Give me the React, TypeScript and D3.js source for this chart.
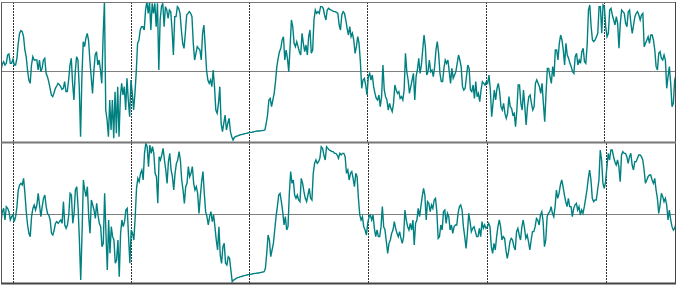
import React from "react";
import * as d3 from "d3";

// Upper oscillator series (arbitrary units, 0..420, reference level 213)
const upperSeries: number[] = [
  216,234,241,231,236,261,264,236,236,248,231,231,251,296,326,334,331,316,276,256,
  216,186,176,231,256,246,246,246,216,246,211,221,246,251,206,196,181,161,141,136,
  148,161,168,176,172,166,158,161,181,151,151,186,231,251,176,126,211,256,246,166,
  16,196,301,286,311,326,306,246,196,146,211,261,271,231,246,216,176,316,421,96,
  66,16,126,
  36,126,11,151,26,166,16,136,176,141,166,96,191,126,76,186,146,96,146,211,
  296,306,336,346,346,336,396,421,386,421,336,416,386,416,346,416,216,366,406,416,
  346,406,396,371,396,391,336,261,376,376,406,401,386,336,296,281,326,381,386,391,
  386,376,296,246,266,286,281,276,246,326,351,286,216,186,176,186,166,216,166,96,
  86,116,166,
  56,31,56,81,36,56,71,31,16,6,14,16,18,19,21,22,23,24,25,26,
  27,28,29,29,30,31,32,33,33,33,34,34,35,36,56,81,126,131,106,126,
  146,181,226,251,271,281,306,316,246,276,251,211,286,366,346,296,286,301,286,271,
  261,326,296,271,291,261,316,336,266,276,366,396,386,391,386,406,406,401,381,366,
  396,401,398,396,393,391,391,389,386,351,336,381,391,386,366,341,321,346,316,326,
  306,266,286,316,296,241,161,186,191,171,141,196,206,186,201,166,146,131,126,141,
  106,136,231,156,136,126,96,116,101,91,116,171,156,146,151,131,136,126,156,266,
  211,186,146,166,186,206,126,196,216,251,206,231,276,321,286,201,211,246,211,216,
  196,226,276,301,266,206,181,181,221,246,236,
  246,211,176,221,191,201,211,236,261,246,226,166,156,161,196,231,221,156,151,171,
  131,181,136,146,121,156,181,176,171,181,176,201,156,76,116,156,126,161,176,151,
  106,96,116,86,71,86,136,106,101,81,86,46,96,171,171,116,96,156,106,51,
  106,136,141,116,96,106,176,186,176,166,146,176,116,61,146,221,221,196,176,226,
  196,276,276,246,296,321,306,276,231,296,261,251,236,226,211,206,256,266,231,246,
  236,271,281,241,236,291,396,411,346,306,301,306,316,326,406,406,326,411,406,346,
  316,326,396,401,381,366,351,376,356,281,356,396,391,386,356,346,391,396,356,326,
  351,376,386,391,381,366,381,386,286,296,306,316,296,321,321,306,276,226,216,266,
  271,251,246,261,246,161,196,226,176,106,116,186,201,
];

// Lower oscillator series (arbitrary units, 0..420, reference level 208)
const lowerSeries: number[] = [
  184,214,224,189,229,224,214,189,199,204,184,199,229,279,294,299,294,314,269,214,
  174,149,139,199,224,234,219,234,269,234,199,229,254,264,229,209,204,189,149,144,
  159,179,184,179,184,189,179,244,174,164,174,204,269,264,179,209,279,289,229,129,
  9,149,309,279,259,289,199,149,249,234,219,194,239,204,179,169,109,119,269,149,
  39,189,89,169,139,129,59,69,129,19,149,189,169,184,219,224,139,59,159,149,
  129,199,284,314,304,329,339,309,389,419,409,349,414,389,409,389,329,319,239,379,
  369,384,404,369,339,299,364,389,339,319,279,329,359,369,394,369,309,279,239,289,
  299,349,319,329,349,299,279,289,269,209,259,304,334,269,214,199,174,199,214,184,
  204,169,129,99,169,
  84,59,109,119,59,54,79,74,39,4,9,11,14,16,17,19,19,21,22,23,
  24,25,26,26,27,28,29,29,30,30,31,32,33,34,44,89,144,129,79,99,
  119,159,199,229,264,269,244,214,174,199,159,169,269,334,299,309,264,254,264,249,
  244,314,299,274,254,244,264,284,254,249,329,359,369,359,364,374,409,404,384,369,
  409,404,399,397,394,394,389,389,384,374,389,384,389,389,379,329,339,309,329,334,
  314,289,329,319,254,204,189,199,169,159,144,179,199,204,189,204,164,139,159,139,
  139,169,229,169,159,124,89,119,129,149,159,184,164,149,139,154,134,119,139,219,
  189,169,159,179,159,189,114,179,189,224,199,229,259,284,264,189,244,239,214,234,
  224,249,254,214,134,139,174,159,214,219,179,
  209,199,159,174,149,169,174,174,209,229,234,219,169,139,104,149,209,184,154,164,
  169,154,139,139,164,139,184,164,174,164,169,179,169,109,89,119,99,139,169,189,
  169,129,139,134,99,74,94,124,134,129,109,99,154,164,144,129,169,189,164,134,
  144,124,99,129,154,154,169,194,189,174,204,214,184,109,129,199,209,214,229,209,
  199,229,279,254,269,294,309,289,264,244,229,254,229,229,199,224,234,239,219,229,
  204,219,209,229,254,279,314,339,309,254,244,249,249,279,309,399,369,299,284,304,
  349,389,369,399,399,379,364,354,369,349,304,384,394,389,389,379,359,379,389,354,
  339,364,364,374,384,384,379,369,339,299,309,319,324,324,309,299,314,279,254,209,
  234,269,259,244,254,234,189,219,189,169,159,164,179,
];

// Period boundaries (sample index) marked by dotted verticals
const periodMarks: number[] = [9, 98, 187, 276, 366, 455];

const refLevels: number[] = [213, 208];
const valueDomain: [number, number] = [0, 420];

const W = 677;
const H = 285;
const LEFT = 1;
const RIGHT = 676;
const panels = [
  { series: upperSeries, top: 2, bottom: 142, ref: refLevels[0] },
  { series: lowerSeries, top: 143, bottom: 283, ref: refLevels[1] },
];

const LINE = "#008080";

export default function App() {
  return (
    <svg
      width={W}
      height={H}
      style={{ position: "absolute", left: 0, top: 0, background: "#fff", display: "block" }}
    >
      <rect x={0} y={0} width={W} height={H} fill="#fff" />
      <defs>
        {panels.map((p, k) => (
          <clipPath id={`clip${k}`} key={k}>
            <rect x={LEFT} y={p.top} width={RIGHT - LEFT} height={p.bottom - p.top} />
          </clipPath>
        ))}
      </defs>
      {panels.map((p, k) => {
        const x = d3.scaleLinear().domain([0, p.series.length - 1]).range([LEFT, RIGHT]);
        const y = d3.scaleLinear().domain(valueDomain).range([p.bottom, p.top]);
        const line = d3
          .line<number>()
          .x((_, i) => x(i))
          .y((v) => y(v));
        const refY = Math.round(y(p.ref)) + 0.5;
        return (
          <g key={k}>
            <line x1={LEFT} x2={RIGHT} y1={refY} y2={refY} stroke="#808080" strokeWidth={1} />
            {periodMarks.map((m, j) => {
              const xx = Math.round(x(m)) + 0.5;
              return (
                <line
                  key={j}
                  x1={xx}
                  x2={xx}
                  y1={p.top}
                  y2={p.bottom}
                  stroke="#333"
                  strokeWidth={1}
                  strokeDasharray="2,1"
                />
              );
            })}
            <path
              d={line(p.series) || ""}
              fill="none"
              stroke={LINE}
              strokeWidth={1.4}
              strokeLinejoin="miter"
              clipPath={`url(#clip${k})`}
            />
          </g>
        );
      })}
      {/* frame */}
      <line x1={1.5} x2={1.5} y1={2} y2={284} stroke="#555" strokeWidth={1} />
      <line x1={1} x2={676} y1={2.5} y2={2.5} stroke="#777" strokeWidth={1} />
      <line x1={675.5} x2={675.5} y1={2} y2={284} stroke="#444" strokeWidth={1} />
      <line x1={1} x2={676} y1={142.5} y2={142.5} stroke="#777" strokeWidth={2} />
      <line x1={1} x2={676} y1={283.5} y2={283.5} stroke="#444" strokeWidth={2} />
    </svg>
  );
}
